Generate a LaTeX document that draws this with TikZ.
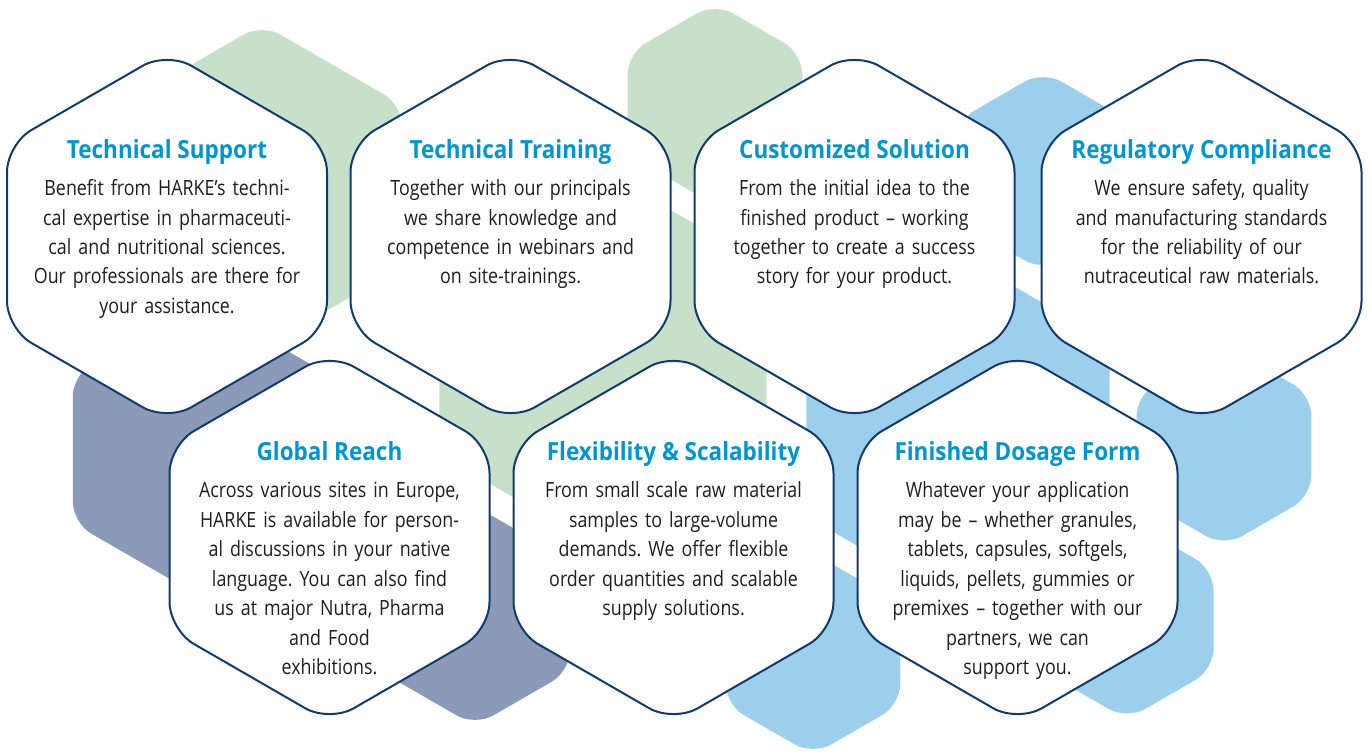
\documentclass[tikz,border=0pt]{standalone}
\usepackage{fontspec}
\setmainfont{Open Sans}[FakeStretch=0.85]
\newfontfamily\headfont{Open Sans}[FakeStretch=0.90]
\definecolor{hexnavy}{HTML}{123A6B}
\definecolor{hexblue}{HTML}{0096D3}
\definecolor{hextext}{HTML}{1E1E1E}
\definecolor{hexgreen}{HTML}{C6E0C9}
\definecolor{hexslate}{HTML}{8C9ABA}
\definecolor{hexsky}{HTML}{9CCFEC}
\frenchspacing
\begin{document}
\begin{tikzpicture}[x=1pt, y=-1pt, line join=round, line cap=round]
			\tikzset{
				cell/.style={fill=white, draw=hexnavy, line width=2pt, rounded corners=28pt},
				back/.style={rounded corners=21pt},
				title/.style={anchor=base, inner sep=0pt, text=hexblue, font=\fontsize{25}{30}\headfont\bfseries},
				body/.style={anchor=base, inner sep=0pt, text=hextext, text width=340pt, align=center, font=\fontsize{21}{29.5}\selectfont}
			}
			\useasboundingbox (0,0) rectangle (1372,754);
			% coloured hexagons behind
			\foreach \cx/\cy/\r/\col in {262/186/162/hexgreen, 715/104/101/hexgreen, 603/360/189/hexgreen,
				201/449/148/hexslate, 475/616/110/hexslate,
				1043/171/100/hexsky, 958/429/175/hexsky, 1224/445.5/101/hexsky, 813/654/101/hexsky, 1127/619.5/100/hexsky}
				\fill[back, fill=\col, shift={(\cx,\cy)}] (90:\r) -- (150:\r) -- (210:\r) -- (270:\r) -- (330:\r) -- (30:\r) -- cycle;
			% white cells
			\foreach \cx/\cy in {167/236.5, 510.5/236.5, 854.5/236.5, 1201.5/236.5, 329.5/537.5, 673.5/537.5, 1017.5/537.5}
				\draw[cell, shift={(\cx,\cy)}] (90:184.75) -- (150:184.75) -- (210:184.75) -- (270:184.75) -- (330:184.75) -- (30:184.75) -- cycle;
			% top row
			\node[title] (ts-title) at (167,158.5) {Technical Support};
			\node[body] (ts-text) at (167,195.5) {Benefit from HARKE’s techni-\\cal expertise in pharmaceuti-\\cal and nutritional sciences.\\Our professionals are there for\\your assistance.};
			\node[title] (tt-title) at (510.5,158.5) {Technical Training};
			\node[body] (tt-text) at (510.5,195.5) {Together with our principals\\we share knowledge and\\competence in webinars and\\on site-trainings.};
			\node[title] (cs-title) at (854.5,158.5) {Customized Solution};
			\node[body] (cs-text) at (854.5,195.5) {From the initial idea to the\\finished product – working\\together to create a success\\story for your product.};
			\node[title] (rc-title) at (1201.5,158.5) {Regulatory Compliance};
			\node[body] (rc-text) at (1201.5,195.5) {We ensure safety, quality\\and manufacturing standards\\for the reliability of our\\nutraceutical raw materials.};
			% bottom row
			\node[title] (gr-title) at (329.5,460.5) {Global Reach};
			\node[body] (gr-text) at (329.5,497.5) {Across various sites in Europe,\\HARKE is available for person-\\al discussions in your native\\language. You can also find\\us at major Nutra, Pharma\\and Food\\exhibitions.};
			\node[title] (fs-title) at (673.5,460.5) {Flexibility \& Scalability};
			\node[body] (fs-text) at (673.5,497.5) {From small scale raw material\\samples to large-volume\\demands. We offer flexible\\order quantities and scalable\\supply solutions.};
			\node[title] (fd-title) at (1017.5,460.5) {Finished Dosage Form};
			\node[body] (fd-text) at (1017.5,497.5) {Whatever your application\\may be – whether granules,\\tablets, capsules, softgels,\\liquids, pellets, gummies or\\premixes – together with our\\partners, we can\\support you.};
		\end{tikzpicture}
\end{document}
